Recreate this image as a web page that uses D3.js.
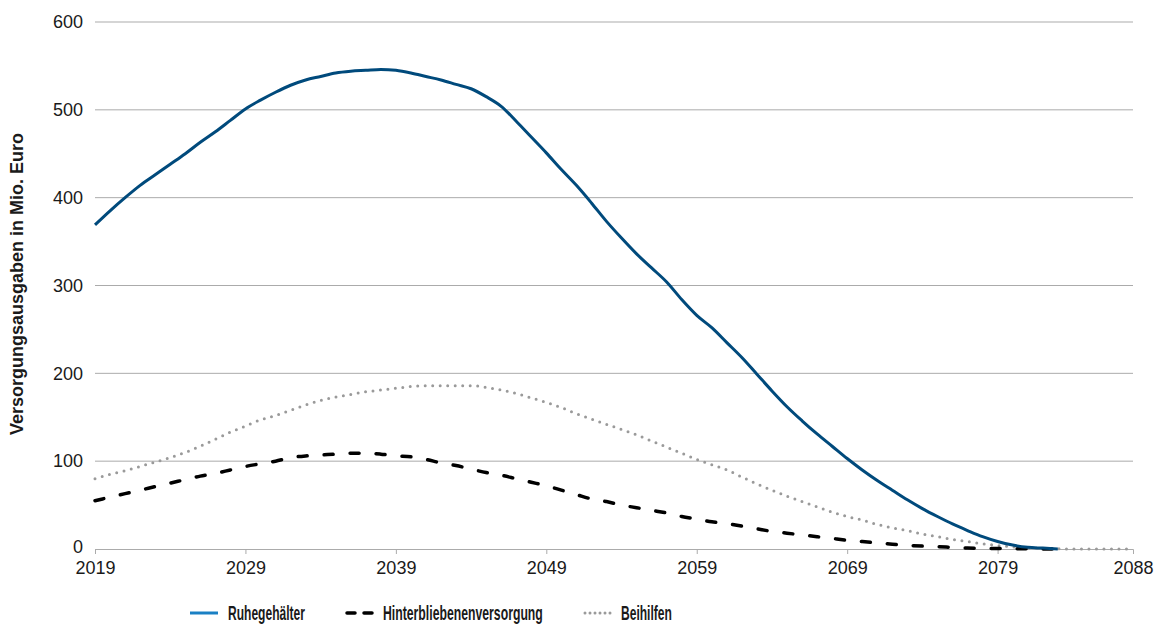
<!DOCTYPE html>
<html>
<head>
<meta charset="utf-8">
<script src="https://cdn.jsdelivr.net/npm/d3@7"></script>
<style>
  body { margin: 0; background: #fff; }
  #chart { width: 1162px; height: 628px; }
  text { font-family: "Liberation Sans", Arial, sans-serif; fill: #1a1a1a; }
</style>
</head>
<body>
<div id="chart"></div>
<script>
const width = 1162, height = 628

const years = d3.range(2019, 2089)
const yTicks = [0, 100, 200, 300, 400, 500, 600]
const xTickLabels = [2019, 2029, 2039, 2049, 2059, 2069, 2079, 2088]

// Ruhegehälter 2019..2083
const ruhegehaelter = [369,385,400,414,426,438,450,463,475,488,
  501,511,520,528,534,538,542,544,545,546,
  545,542,538,534,529,524,515,504,487,469,
  451,432,414,394,373,354,336,320,304,284,
  266,252,235,218,199,180,162,146,131,117,
  103,90,78,67,56,46,37,28.5,21,14,
  8.5,4.5,2,1,0]

// Hinterbliebenenversorgung 2019..2083
const hinterbliebene = [55,59,63,67,71,75,79,83,86,90,
  94,97,100,104,106,107,108,109,109,108,
  106,105,102,98,95,91,87,84,80,76,
  72,67,62,57,54,50,47,44,41,37,
  34,31,29,26,23,20,18,16,14,12,
  10,8.5,7,5.5,4.2,3.3,2.6,1.8,1,0.7,
  0.5,0.3,0.2,0.1,0]

// Beihilfen 2019..2088
const beihilfen = [80,85,89,94,99,104,110,117,125,133,
  140,147,152,158,164,169,173,176,179,181,
  183,185,186,186,186,186,184,181,177,172,
  167,161,154,148,142,136,130,123,116,109,
  102,96,90,82,74,67,60,54,48,42,
  37,33,28,24,21,17,14,11,8.6,6,
  4,2.5,1.3,0.7,0.3,0,0,0,0,0]

const series = [
  {name: "Ruhegehälter", values: ruhegehaelter, color: "#004a7c", legendColor: "#1a80c4", dash: null, width: 3},
  {name: "Hinterbliebenenversorgung", values: hinterbliebene, color: "#000", legendColor: "#000", dash: "9,17", width: 3.5},
  {name: "Beihilfen", values: beihilfen, color: "#9a9a9a", legendColor: "#9a9a9a", dash: "0,7.5", width: 3}
]

const x = d3.scaleLinear().domain([2019, 2088]).range([95, 1133])
const y = d3.scaleLinear().domain([0, 600]).range([549, 22])

let svg = d3.select("#chart")
  .append("svg")
  .attr("width", width)
  .attr("height", height)

// gridlines
svg.append("g")
  .selectAll("line")
  .data(yTicks.filter(d => d > 0))
  .join("line")
    .attr("x1", x(2019)).attr("x2", x(2088))
    .attr("y1", d => y(d)).attr("y2", d => y(d))
    .attr("stroke", "#ababab")
    .attr("stroke-width", 1)

// y axis labels
const yAxis = d3.axisLeft(y).tickValues(yTicks).tickSize(0).tickPadding(12)
const yg = svg.append("g").attr("transform", `translate(${x(2019)},0)`).call(yAxis)
yg.select(".domain").remove()
yg.selectAll("text").style("font-size", "18px").attr("fill", "#1a1a1a")
  .style("font-family", "'Liberation Sans', Arial, sans-serif")
// the 0 label sits a bit higher so it does not touch the year labels
yg.selectAll(".tick").filter(d => d == 0).select("text").attr("dy", "0.2em")

// x axis
const xAxis = d3.axisBottom(x).tickValues(xTickLabels).tickSize(5).tickPadding(7).tickFormat(d3.format("d"))
const xg = svg.append("g").attr("transform", `translate(0,${y(0)})`).call(xAxis)
xg.select(".domain").attr("stroke", "#ababab")
xg.selectAll(".tick line").attr("stroke", "#ababab")
xg.selectAll(".tick").filter(d => d == 2088).select("line").remove()
xg.selectAll("text").style("font-size", "18px").attr("fill", "#1a1a1a")
  .style("font-family", "'Liberation Sans', Arial, sans-serif")

// squeeze a text horizontally to a target width (the original font is condensed)
function squeeze(sel, w, tx, ty, rot) {
  const natural = sel.node().getComputedTextLength()
  const k = Math.min(1, w / natural)
  sel.attr("transform", `translate(${tx},${ty})` + (rot ? ` rotate(${rot})` : "") + ` scale(${k},1)`)
}

// y title
const ytitle = svg.append("text")
  .attr("text-anchor", "middle")
  .style("font-size", "18px")
  .style("font-weight", "bold")
  .text("Versorgungsausgaben in Mio. Euro")
squeeze(ytitle, 308, 23, 284, -90)

// lines
const line = d3.line()
  .defined(d => d[1] != null)
  .x(d => x(d[0]))
  .y(d => y(d[1]))
  .curve(d3.curveMonotoneX)

// draw grey first, then black, then blue on top
const order = [2, 1, 0]
order.forEach(i => {
  const s = series[i]
  const pts = years.map((yr, j) => [yr, j < s.values.length ? s.values[j] : null])
  svg.append("path")
    .attr("d", line(pts))
    .attr("fill", "none")
    .attr("stroke", s.color)
    .attr("stroke-width", s.width)
    .attr("stroke-dasharray", s.dash)
    .attr("stroke-linecap", s.dash ? "round" : "butt")
})

// legend
const legendX = [190, 345, 583]
const legendW = [77, 160, 51]
const legend = svg.append("g")
series.forEach((s, i) => {
  legend.append("line")
    .attr("x1", legendX[i] + (s.dash ? 2 : 0)).attr("x2", legendX[i] + 28)
    .attr("y1", 613).attr("y2", 613)
    .attr("stroke", s.legendColor)
    .attr("stroke-width", s.width)
    .attr("stroke-dasharray", s.dash == "9,17" ? "8,9" : (s.dash ? "0,5" : null))
    .attr("stroke-linecap", s.dash ? "round" : "butt")
  const t = legend.append("text")
    .style("font-size", "19.5px")
    .style("font-weight", "bold")
    .text(s.name)
  squeeze(t, legendW[i], legendX[i] + 38, 620)
})
</script>
</body>
</html>
